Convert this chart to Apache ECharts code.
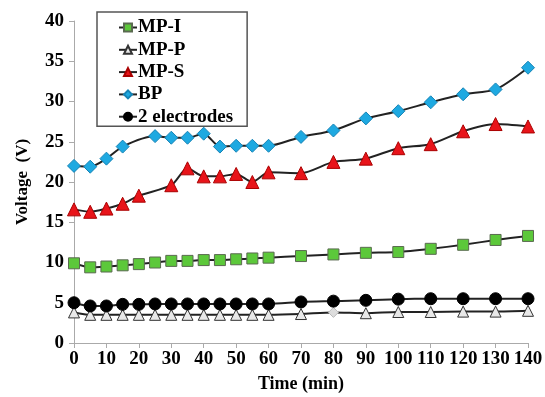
<!DOCTYPE html>
<html>
<head>
<meta charset="utf-8">
<script src="https://cdn.jsdelivr.net/npm/echarts@6/dist/echarts.min.js"></script>
<style>
    html, body { margin: 0; padding: 0; background: #fff; }
    #chart { width: 545px; height: 397px; }
</style>
</head>
<body>
<div id="chart"></div>
<script>
// time points (min)
var timeFull = [0, 5, 10, 15, 20, 25, 30, 35, 40, 45, 50, 55, 60, 70, 80, 90, 100, 110, 120, 130, 140];
var timeBP = [0, 5, 10, 15, 25, 30, 35, 40, 45, 50, 55, 60, 70, 80, 90, 100, 110, 120, 130, 140];
var timeS = [0, 5, 10, 15, 20, 30, 35, 40, 45, 50, 55, 60, 70, 80, 90, 100, 110, 120, 130, 140];

// voltages (V)
var mpI = [9.9, 9.4, 9.5, 9.65, 9.8, 10.0, 10.2, 10.2, 10.3, 10.3, 10.4, 10.5, 10.6, 10.8, 11.0, 11.2, 11.3, 11.7, 12.2, 12.8, 13.3];
var mpP = [3.8, 3.5, 3.5, 3.5, 3.5, 3.5, 3.5, 3.5, 3.5, 3.5, 3.5, 3.5, 3.5, 3.6, 3.8, 3.7, 3.85, 3.85, 3.9, 3.9, 4.0];
var mpS = [16.6, 16.3, 16.7, 17.3, 18.3, 19.6, 21.7, 20.7, 20.7, 21.0, 20.0, 21.2, 21.1, 22.5, 22.9, 24.2, 24.7, 26.3, 27.2, 26.9];
var bp = [22.0, 21.9, 22.9, 24.4, 25.7, 25.5, 25.5, 26.0, 24.4, 24.5, 24.5, 24.5, 25.6, 26.4, 27.9, 28.8, 29.9, 30.9, 31.5, 34.2];
var twoEl = [5.0, 4.6, 4.6, 4.8, 4.8, 4.85, 4.85, 4.85, 4.85, 4.85, 4.85, 4.85, 4.85, 5.1, 5.2, 5.3, 5.45, 5.5, 5.5, 5.5, 5.5];

var seriesNames = ['MP-I', 'MP-P', 'MP-S', 'BP', '2 electrodes'];

function pairs(xs, ys) {
    return xs.map(function (x, i) { return [x, ys[i]]; });
}

var serif = '"Liberation Serif", "DejaVu Serif", serif';

function line(name, data, symbol, size, fill, border) {
    return {
        name: name,
        type: 'line',
        data: data,
        smooth: 0.25,
        symbol: symbol,
        symbolSize: size,
        lineStyle: { color: '#222', width: 2 },
        itemStyle: { color: fill, borderColor: border, borderWidth: 1 },
        emphasis: { disabled: true }
    };
}

var mpPData = pairs(timeFull, mpP);
// the 80 min point is drawn as a pale diamond in the original
mpPData[14] = { value: mpPData[14], symbol: 'diamond', symbolSize: 10, itemStyle: { color: '#ddd', borderColor: '#bbb' } };

var chart = echarts.init(document.getElementById('chart'));
var option = {
    animation: false,
    grid: { left: 74, right: 17, top: 21, bottom: 54, outerBoundsMode: 'none' },
    legend: {
        orient: 'vertical',
        left: 97,
        top: 12,
        padding: [6, 14, 0, 21],
        itemGap: 3.3,
        itemWidth: 18,
        itemHeight: 10,
        backgroundColor: '#fff',
        borderColor: '#555',
        borderWidth: 1.5,
        borderRadius: 0,
        data: seriesNames,
        textStyle: { fontFamily: serif, fontWeight: 'bold', fontSize: 19, color: '#000', padding: [0, 0, 0, -4] }
    },
    xAxis: {
        type: 'value',
        min: 0,
        max: 140,
        interval: 10,
        name: 'Time (min)',
        nameLocation: 'middle',
        nameGap: 32,
        nameTextStyle: { fontFamily: serif, fontWeight: 'bold', fontSize: 18, color: '#000' },
        axisLine: { lineStyle: { color: '#aaa', width: 1 } },
        axisTick: { show: true, length: 5, lineStyle: { color: '#aaa' } },
        axisLabel: { fontFamily: serif, fontWeight: 'bold', fontSize: 19, color: '#000', margin: 7 },
        splitLine: { show: false }
    },
    yAxis: {
        type: 'value',
        min: 0,
        max: 40,
        interval: 5,
        name: 'Voltage  (V)',
        nameLocation: 'middle',
        nameGap: 43,
        nameTextStyle: { fontFamily: serif, fontWeight: 'bold', fontSize: 17, color: '#000' },
        axisLine: { show: true, lineStyle: { color: '#aaa', width: 1 } },
        axisTick: { show: true, length: 5, lineStyle: { color: '#aaa' } },
        axisLabel: { fontFamily: serif, fontWeight: 'bold', fontSize: 19, color: '#000', margin: 10 },
        splitLine: { show: false }
    },
    series: [
        line('MP-I', pairs(timeFull, mpI), 'rect', 11, '#5cc83a', '#5a6a50'),
        line('MP-P', mpPData, 'triangle', 11, '#e8e8e8', '#333'),
        line('MP-S', pairs(timeS, mpS), 'triangle', 13, '#e8141a', '#a00'),
        line('BP', pairs(timeBP, bp), 'diamond', 13, '#1ea9e1', '#1683b5'),
        line('2 electrodes', pairs(timeFull, twoEl), 'circle', 12, '#000', '#000')
    ]
};
chart.setOption(option);
</script>
</body>
</html>
